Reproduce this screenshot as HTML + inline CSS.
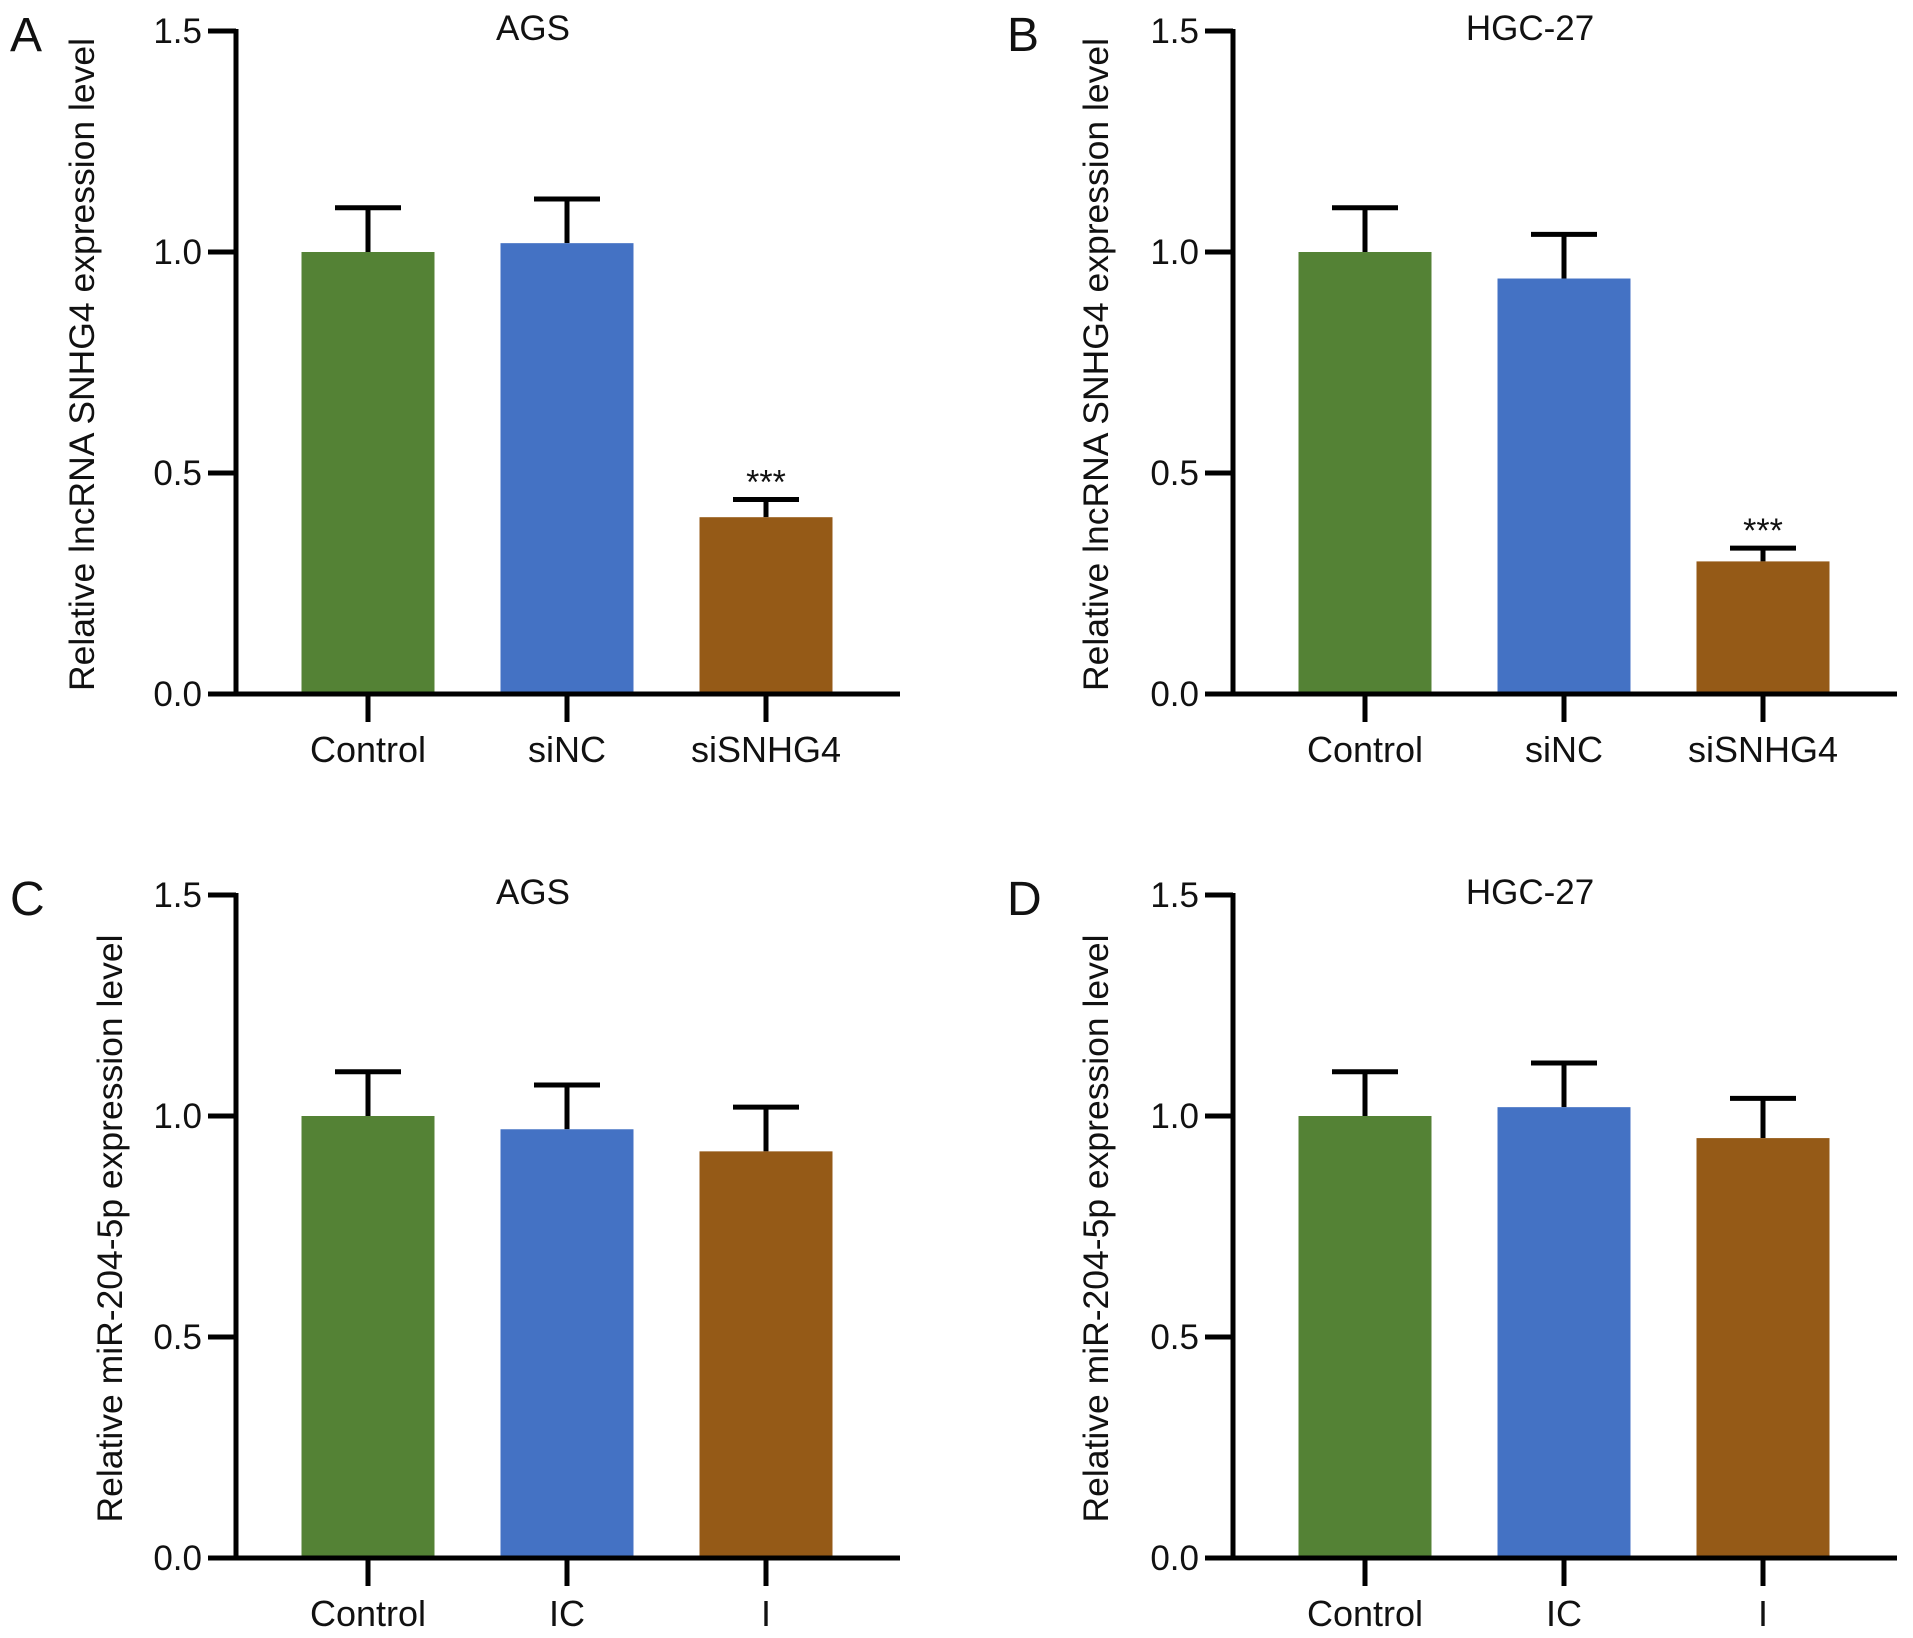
<!DOCTYPE html>
<html><head><meta charset="utf-8"><style>
html,body{margin:0;padding:0;background:#fff}
svg{display:block;font-family:"Liberation Sans",Arial,sans-serif}
</style></head><body>
<svg id="fig" width="1913" height="1638" viewBox="0 0 1913 1638"></svg>
<script>
const categoriesTop = ["Control","siNC","siSNHG4"];
const categoriesBottom = ["Control","IC","I"];
const valuesA = [1.00, 1.02, 0.40];
const errorsA = [0.10, 0.10, 0.04];
const valuesB = [1.00, 0.94, 0.30];
const errorsB = [0.10, 0.10, 0.03];
const valuesC = [1.00, 0.97, 0.92];
const errorsC = [0.10, 0.10, 0.10];
const valuesD = [1.00, 1.02, 0.95];
const errorsD = [0.10, 0.10, 0.09];
const sigA = ["","","***"];
const sigB = ["","","***"];
const sigC = ["","",""];
const sigD = ["","",""];
const yTicks = [0.0, 0.5, 1.0, 1.5];
const yTickLabels = ["0.0","0.5","1.0","1.5"];
const colors = ["#548235","#4472C4","#955A17"];

const NS = "http://www.w3.org/2000/svg";
const svg = document.getElementById("fig");
function mk(tag, attrs, parent){
  const e = document.createElementNS(NS, tag);
  for (const k in attrs) e.setAttribute(k, attrs[k]);
  (parent||svg).appendChild(e);
  return e;
}
const panels = [
  {letter:"A", title:"AGS", ax:236, y0:694, cats:categoriesTop, vals:valuesA, errs:errorsA, sig:sigA, ytitle:"Relative lncRNA SNHG4 expression level", ytx:82},
  {letter:"B", title:"HGC-27", ax:1233, y0:694, cats:categoriesTop, vals:valuesB, errs:errorsB, sig:sigB, ytitle:"Relative lncRNA SNHG4 expression level", ytx:1096},
  {letter:"C", title:"AGS", ax:236, y0:1558, cats:categoriesBottom, vals:valuesC, errs:errorsC, sig:sigC, ytitle:"Relative miR-204-5p expression level", ytx:110},
  {letter:"D", title:"HGC-27", ax:1233, y0:1558, cats:categoriesBottom, vals:valuesD, errs:errorsD, sig:sigD, ytitle:"Relative miR-204-5p expression level", ytx:1096}
];
const H = 663, YMAX = 1.5, BW = 133;
panels.forEach((p, pi) => {
  const g = mk("g", {});
  
  
  const ys = v => p.y0 - v / YMAX * H;
  const xs = i => p.ax + 132 + i * 199;
  const L = mk("text", {x: p.ax - 226, y: p.y0 - H + 20, "font-size": 48, fill:"#111"}, g);
  L.textContent = p.letter;
  
  
  const T = mk("text", {x: p.ax + 297, y: p.y0 - H + 9, "font-size": 35, fill:"#111", "text-anchor":"middle"}, g);
  T.textContent = p.title;
  
  
  const yc = p.y0 - H/2 + 2;
  const YT = mk("text", {x: p.ytx, y: yc, "font-size": 35.5, fill:"#111", "text-anchor":"middle", "dominant-baseline":"central", transform:`rotate(-90 ${p.ytx} ${yc})`}, g);
  YT.textContent = p.ytitle;
  
  
  p.vals.forEach((v, i) => {
    const cx = xs(i);
    const ey = ys(v + p.errs[i]);
    const eb = mk("line", {x1: cx, x2: cx, y1: ys(v), y2: ey, stroke:"#000", "stroke-width":5}, g);
    
    
    const cap = mk("line", {x1: cx - 33, x2: cx + 33, y1: ey, y2: ey, stroke:"#000", "stroke-width":5}, g);
    
    
    const r = mk("rect", {x: cx - BW/2, y: ys(v), width: BW, height: p.y0 - ys(v), fill: colors[i]}, g);
    
    
    if (p.sig[i]) {
      const s = mk("text", {x: cx, y: ey - 6, "font-size": 34, fill:"#111", "text-anchor":"middle"}, g);
      s.textContent = p.sig[i];
      
      
    }
    const tk = mk("line", {x1: cx, x2: cx, y1: p.y0, y2: p.y0 + 28, stroke:"#000", "stroke-width":5}, g);
    
    
    const lb = mk("text", {x: cx, y: p.y0 + 68, "font-size": 36, fill:"#111", "text-anchor":"middle"}, g);
    lb.textContent = p.cats[i];
    
    
  });
  const ya = mk("line", {x1: p.ax, x2: p.ax, y1: ys(YMAX) - 2, y2: p.y0 + 2, stroke:"#000", "stroke-width":5}, g);
  
  
  const xa = mk("line", {x1: p.ax - 28, x2: p.ax + 664, y1: p.y0, y2: p.y0, stroke:"#000", "stroke-width":5}, g);
  
  
  yTicks.forEach((t, k) => {
    const yy = ys(t);
    const tl = mk("line", {x1: p.ax - 28, x2: p.ax, y1: yy, y2: yy, stroke:"#000", "stroke-width":5}, g);
    
    
    const tx = mk("text", {x: p.ax - 34, y: yy + 12, "font-size": 35, fill:"#111", "text-anchor":"end"}, g);
    tx.textContent = yTickLabels[k];
    
    
  });
});
</script>
</body></html>
